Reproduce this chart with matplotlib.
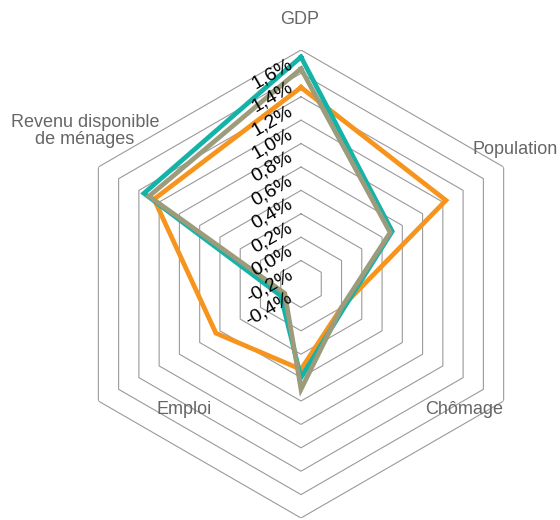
import numpy as np
import matplotlib.pyplot as plt
import matplotlib.transforms as mtransforms

# données
categories = ['GDP', 'Population', 'Chômage', '', 'Emploi', 'Revenu disponible\nde ménages']
orange = [1.28, 1.03, 0.0, 0.33, 0.44, 1.05]
teal = [1.54, 0.50, 0.02, 0.40, -0.20, 1.15]
olive = [1.44, 0.48, 0.0, 0.50, -0.24, 1.10]
ticks = [-0.4, -0.2, 0.0, 0.2, 0.4, 0.6, 0.8, 1.0, 1.2, 1.4, 1.6]
tick_labels = ['-0,4%', '-0,2%', '0,0%', '0,2%', '0,4%', '0,6%', '0,8%', '1,0%', '1,2%', '1,4%', '1,6%']

plt.rcParams['font.family'] = ['Liberation Sans', 'DejaVu Sans']

W, H = 560, 520
fig = plt.figure(figsize=(W/100, H/100), dpi=100)
cx, cy, R = 301, 284, 234
ax = fig.add_axes([(cx-R)/W, (H-cy-R)/H, 2*R/W, 2*R/H], projection='polar')
ax.set_theta_zero_location('N')
ax.set_theta_direction(-1)
ax.set_ylim(-0.4, 1.6)
ax.grid(False)
ax.spines['polar'].set_visible(False)
ax.set_xticks([])
ax.set_yticks([])
ax.patch.set_alpha(0)

n = len(categories)
ang = np.arange(n + 1) * 2 * np.pi / n

# anneaux hexagonaux
for t in ticks[1:]:
    ax.plot(ang, [t]*(n+1), color='#9a9a9a', lw=0.8, zorder=1)

def closed(v):
    return list(v) + [v[0]]

ax.plot(ang, closed(orange), color='#F7941D', lw=3.4, zorder=3, solid_joinstyle='miter')
ax.plot(ang, closed(teal), color='#14B3A8', lw=3.4, zorder=4, solid_joinstyle='miter')
ax.plot(ang, closed(olive), color='#9C9B7C', lw=3.4, zorder=5, solid_joinstyle='miter')

# étiquettes de l'axe radial
off = mtransforms.offset_copy(ax.transData, fig=fig, x=-7, y=-9, units='points')
for t, lab in zip(ticks, tick_labels):
    ax.text(0, t, lab, transform=off, rotation=30, rotation_mode='anchor',
            ha='right', va='center', fontsize=14, color='black', zorder=6)

# étiquettes des catégories
lc = '#666666'
fs = 13
fig.text(300/W, 1-20/H, 'GDP', ha='center', va='center', fontsize=fs, color=lc)
fig.text(473/W, 1-150/H, 'Population', ha='left', va='center', fontsize=fs, color=lc)
fig.text(464/W, 1-410/H, 'Chômage', ha='center', va='center', fontsize=fs, color=lc)
fig.text(184/W, 1-410/H, 'Emploi', ha='center', va='center', fontsize=fs, color=lc)
fig.text(85/W, 1-131/H, 'Revenu disponible\nde ménages', ha='center', va='center',
         fontsize=fs, color=lc, linespacing=1.05)

fig.savefig('out.png', dpi=100)
